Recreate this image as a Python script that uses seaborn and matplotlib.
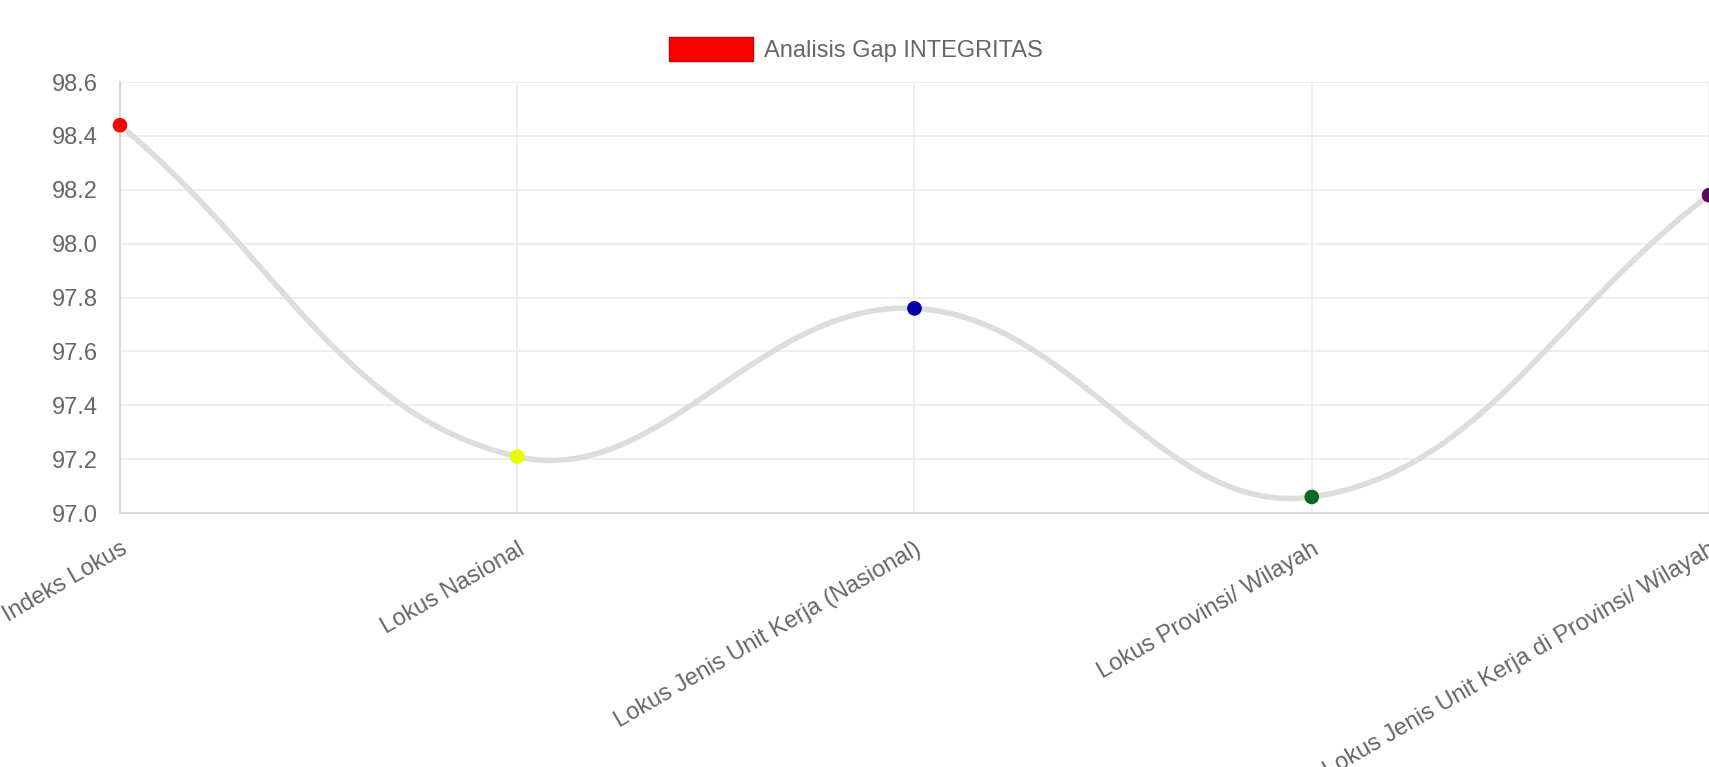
import numpy as np
import pandas as pd
import seaborn as sns
import matplotlib.pyplot as plt
from matplotlib.patches import Patch

categories = [
    "Indeks Lokus",
    "Lokus Nasional",
    "Lokus Jenis Unit Kerja (Nasional)",
    "Lokus Provinsi/ Wilayah",
    "Lokus Jenis Unit Kerja di Provinsi/ Wilayah",
]
values = [98.44, 97.21, 97.76, 97.06, 98.18]
point_colors = ["#ff0000", "#e5ff00", "#0000a8", "#006b1a", "#5a0a5a"]
series_name = "Analisis Gap INTEGRITAS"
y_ticks = [97.0, 97.2, 97.4, 97.6, 97.8, 98.0, 98.2, 98.4, 98.6]


def smooth_curve(xs, ys, sx=397.0, sy=269.0, tension=0.4, n=60):
    # bezier spline like the chart.js line (tension 0.4), done in pixel space
    pts = np.column_stack([np.asarray(xs, float) * sx, np.asarray(ys, float) * sy])
    m = len(pts)
    cp_prev = pts.copy()
    cp_next = pts.copy()
    for i in range(m):
        p0 = pts[max(i - 1, 0)]
        p1 = pts[i]
        p2 = pts[min(i + 1, m - 1)]
        d01 = np.hypot(*(p1 - p0))
        d12 = np.hypot(*(p2 - p1))
        tot = d01 + d12
        s01 = d01 / tot if tot else 0
        s12 = d12 / tot if tot else 0
        cp_prev[i] = p1 - tension * s01 * (p2 - p0)
        cp_next[i] = p1 + tension * s12 * (p2 - p0)
    t = np.linspace(0, 1, n)[:, None]
    segs = []
    for i in range(m - 1):
        a, b, c, d = pts[i], cp_next[i], cp_prev[i + 1], pts[i + 1]
        segs.append((1 - t) ** 3 * a + 3 * (1 - t) ** 2 * t * b + 3 * (1 - t) * t ** 2 * c + t ** 3 * d)
    curve = np.vstack(segs)
    return curve[:, 0] / sx, curve[:, 1] / sy


sns.set_theme(style="whitegrid")
plt.rcParams["font.family"] = ["Liberation Sans", "DejaVu Sans"]

df = pd.DataFrame({"pos": range(len(categories)), "cat": categories, "val": values})
cx, cy = smooth_curve(df["pos"], df["val"])
curve = pd.DataFrame({"x": cx, "y": cy})

fig = plt.figure(figsize=(17.09, 7.67), dpi=100)
ax = fig.add_axes([0.0702, 0.331, 0.9298, 0.562])

sns.lineplot(data=curve, x="x", y="y", sort=False, color="#dddddd", linewidth=4, ax=ax, zorder=2)
sns.scatterplot(data=df, x="pos", y="val", hue="cat", palette=point_colors, s=95,
                edgecolor=None, legend=False, ax=ax, zorder=3, clip_on=False)

ax.set_xlim(0, len(categories) - 1)
ax.set_ylim(97.0, 98.6)
ax.set_yticks(y_ticks)
ax.set_yticklabels([f"{v:.1f}" for v in y_ticks])
ax.set_xticks(df["pos"])
ax.set_xticklabels(categories, rotation=30, ha="right", rotation_mode="anchor")
ax.set_xlabel("")
ax.set_ylabel("")

ax.grid(True, color="#ebebeb", linewidth=1.2)
ax.tick_params(axis="both", which="major", length=14, width=1.2, color="#e3e3e3",
               labelsize=17, labelcolor="#666666", pad=2)
ax.tick_params(axis="x", pad=4)
for side in ["top", "right"]:
    ax.spines[side].set_visible(False)
for side in ["left", "bottom"]:
    ax.spines[side].set_color("#d6d6d6")
    ax.spines[side].set_linewidth(1.4)

fig.legend(handles=[Patch(facecolor="#ff0000", edgecolor="#d00000", label=series_name)],
           loc="center", bbox_to_anchor=(0.501, 0.9355), frameon=False,
           fontsize=17, labelcolor="#666666", handlelength=3.56, handleheight=1.15,
           handletextpad=0.47)

fig.savefig("out.png", dpi=100, facecolor="white")
